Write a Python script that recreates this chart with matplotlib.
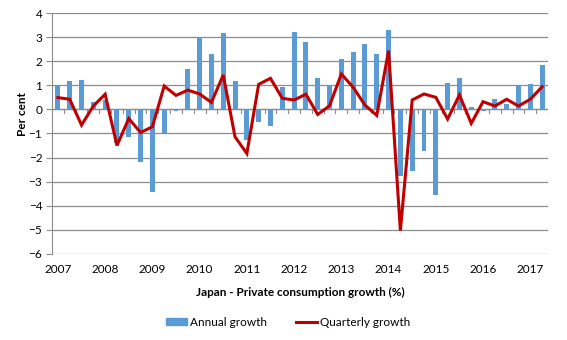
import numpy as np
import matplotlib
matplotlib.use('Agg')
import matplotlib.pyplot as plt
from matplotlib.lines import Line2D
from matplotlib.patches import Patch

# Japan private consumption growth, 2007Q1 - 2017Q2 (per cent)
years = ['2007', '2008', '2009', '2010', '2011', '2012',
         '2013', '2014', '2015', '2016', '2017']
annual = [1.00, 1.19, 1.22, 0.30, 0.40, -1.40, -1.14, -2.18, -3.43, -1.00,
          -0.08, 1.68, 2.99, 2.30, 3.17, 1.18, -1.25, -0.51, -0.68, 0.92,
          3.21, 2.79, 1.31, 0.97, 2.08, 2.38, 2.72, 2.30, 3.30, -2.76,
          -2.56, -1.72, -3.54, 1.08, 1.31, 0.10, -0.07, 0.43, 0.22, 0.97,
          1.06, 1.85]
quarterly = [0.49, 0.42, -0.65, 0.14, 0.63, -1.50, -0.38, -0.96, -0.72, 0.97,
             0.58, 0.80, 0.64, 0.29, 1.43, -1.14, -1.83, 1.04, 1.29, 0.46,
             0.39, 0.63, -0.21, 0.15, 1.47, 0.92, 0.18, -0.25, 2.44, -5.03,
             0.39, 0.64, 0.50, -0.40, 0.60, -0.58, 0.32, 0.14, 0.42, 0.14,
             0.42, 0.94]

plt.rcParams['font.family'] = ['Lato', 'DejaVu Sans']
plt.rcParams['font.size'] = 8

W, H = 567, 340
fig = plt.figure(figsize=(W / 100, H / 100), dpi=100)
ax = fig.add_axes([52 / W, (H - 254) / H, (548 - 52) / W, (254 - 13) / H])

n = len(annual)
ind = np.arange(n)
grid_col = '#8c8c8c'

ax.set_axisbelow(True)
ax.yaxis.grid(True, color=grid_col, lw=0.9)
ax.bar(ind, annual, 0.42, color='#5b9bd5', zorder=2)
ax.plot(ind, quarterly, color='#c00000', lw=2.2, zorder=3,
        solid_joinstyle='miter')

# category axis sits on the zero line, ticks between quarters
ax.axhline(0, color=grid_col, lw=0.9, zorder=1)
for b in np.arange(n + 1) - 0.5:
    ax.plot([b, b], [0, -0.13], color=grid_col, lw=0.8, zorder=1)

ax.set_xlim(-0.5, n - 0.5)
ax.set_ylim(-6, 4)
ax.set_yticks(np.arange(-6, 5))
ax.set_xticks(ind[::4])
ax.set_xticklabels(years)
ax.tick_params(axis='x', length=0, pad=7, labelsize=8.5)
ax.tick_params(axis='y', length=4, color=grid_col, pad=3, labelsize=8.5)
for s in ['top', 'right', 'bottom']:
    ax.spines[s].set_visible(False)
ax.spines['left'].set_color(grid_col)

fig.text(22 / W, 1 - 114 / H, 'Per cent', rotation=90, ha='center',
         va='center', fontsize=8.5, fontweight='bold')
fig.text(300 / W, 1 - 292 / H, 'Japan - Private consumption growth (%)',
         ha='center', va='center', fontsize=8.5, fontweight='bold')

handles = [Patch(color='#5b9bd5'),
           Line2D([0], [0], color='#c00000', lw=2.2)]
fig.legend(handles, ['Annual growth', 'Quarterly growth'], loc='center',
           bbox_to_anchor=(288 / W, 1 - 322 / H), ncol=2, frameon=False,
           fontsize=8.5, handlelength=1.8, handleheight=0.5,
           handletextpad=0.2, columnspacing=2.5)

plt.savefig('out.png', dpi=100)
